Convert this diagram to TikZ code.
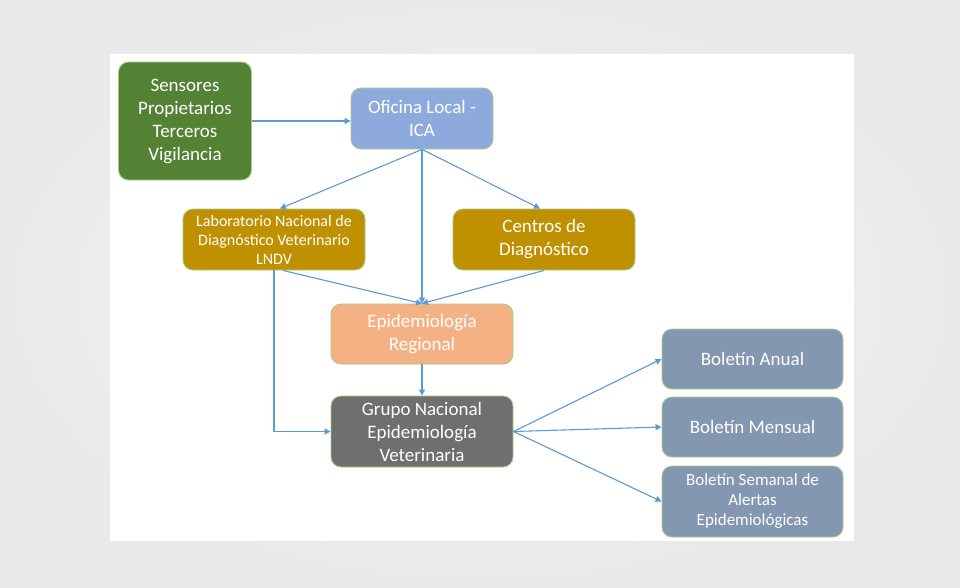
\documentclass[tikz,border=0pt]{standalone}
\usepackage{fontspec}
\setmainfont{Carlito}
\usetikzlibrary{arrows.meta}

\definecolor{bgedge}{HTML}{E9E9E9}
\definecolor{bgmid}{HTML}{F9F9F9}
\definecolor{rim}{HTML}{A9C98C}
\definecolor{arrowblue}{HTML}{5B9BD5}
\definecolor{cgreen}{HTML}{548235}
\definecolor{cblue}{HTML}{8EA9DB}
\definecolor{cgold}{HTML}{BF9000}
\definecolor{corange}{HTML}{F4B183}
\definecolor{cgray}{HTML}{6F6F6F}
\definecolor{cslate}{HTML}{8497B0}

\tikzset{
  box/.style={draw=rim, line width=0.9pt, rounded corners=10pt, text=white,
    align=center, inner sep=2pt, font=\fontsize{19}{23}\selectfont},
  smalltext/.style={font=\fontsize{16}{19}\selectfont},
  mediumtext/.style={font=\fontsize{17}{20}\selectfont},
  link/.style={draw=arrowblue, line width=1.1pt,
    -{Triangle[length=6pt,width=6pt]}},
}

\begin{document}
\begin{tikzpicture}[x=1pt,y=-1pt]
  % page background and white panel
  \shade[inner color=bgmid, outer color=bgedge] (0,0) rectangle (960,587);
  \useasboundingbox (0,0) rectangle (960,587);
  \fill[white] (110,54) rectangle (854,541);

  % boxes
  \node[box, fill=cgreen, minimum width=133pt, minimum height=118pt]
    (sens) at (185,121) {Sensores\\Propietarios\\Terceros\\Vigilancia};
  \node[box, fill=cblue, minimum width=142pt, minimum height=61pt]
    (ofi) at (422,118.5) {Oficina Local -\\ICA};
  \node[box, smalltext, fill=cgold, minimum width=182pt, minimum height=61pt]
    (lab) at (274,239.5) {Laboratorio Nacional de\\Diagnóstico Veterinario\\LNDV};
  \node[box, fill=cgold, minimum width=182pt, minimum height=61pt]
    (cen) at (544,239.5) {Centros de\\Diagnóstico};
  \node[box, fill=corange, minimum width=182pt, minimum height=60pt]
    (epi) at (422,334) {Epidemiología\\Regional};
  \node[box, fill=cgray, minimum width=182pt, minimum height=71pt]
    (grupo) at (422,431.5) {Grupo Nacional\\Epidemiología\\Veterinaria};
  \node[box, fill=cslate, minimum width=181pt, minimum height=60pt]
    (anual) at (752.5,359) {Boletín Anual};
  \node[box, fill=cslate, minimum width=181pt, minimum height=60pt]
    (mensual) at (752.5,427) {Boletín Mensual};
  \node[box, mediumtext, fill=cslate, minimum width=181pt, minimum height=71pt]
    (semanal) at (752.5,501.5) {Boletín Semanal de\\Alertas\\Epidemiológicas};

  % connectors
  \draw[link] (sens.east) -- (sens.east -| ofi.west);
  \draw[link] (ofi.south) -- ([xshift=6pt]lab.north);
  \draw[link] (ofi.south) -- (epi.north);
  \draw[link] (ofi.south) -- ([xshift=-4pt]cen.north);
  \draw[link] ([xshift=9pt]lab.south) -- (epi.north);
  \draw[link] (cen.south) -- (epi.north);
  \draw[link] (lab.south) |- (grupo.west);
  \draw[link] (epi.south) -- (grupo.north);
  \draw[link] (grupo.east) -- (anual.west);
  \draw[link] (grupo.east) -- (mensual.west);
  \draw[link] (grupo.east) -- (semanal.west);
\end{tikzpicture}
\end{document}
